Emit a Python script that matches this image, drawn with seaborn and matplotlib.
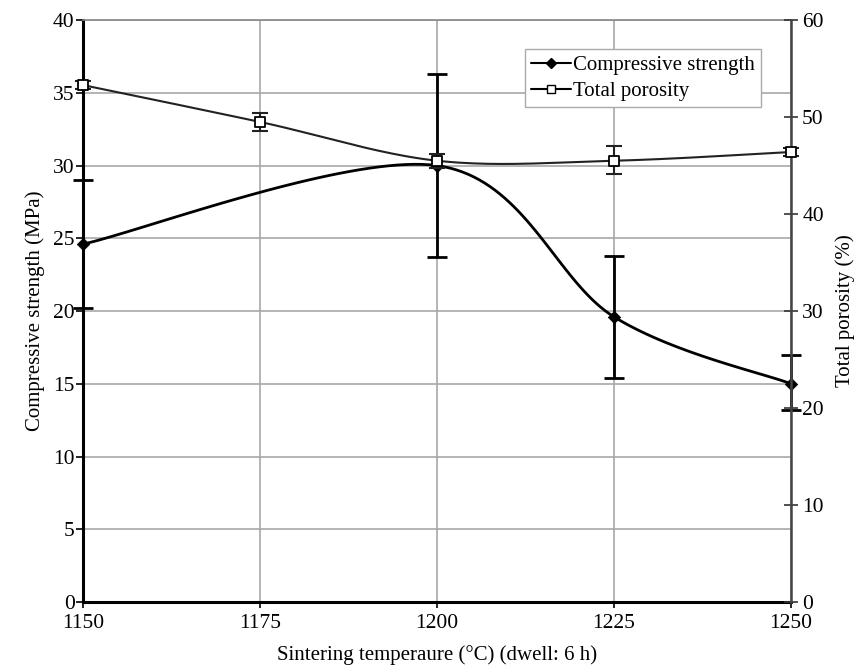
import numpy as np
import pandas as pd
import matplotlib
matplotlib.use("Agg")
import matplotlib.pyplot as plt
from matplotlib.lines import Line2D
import seaborn as sns

# ---- data ----
cs_temp = [1150, 1200, 1225, 1250]
cs_val = [24.6, 30.0, 19.6, 15.0]
cs_lo = [20.2, 23.7, 15.4, 13.2]
cs_hi = [29.0, 36.3, 23.8, 17.0]

por_temp = [1150, 1175, 1200, 1225, 1250]
por_val = [53.3, 49.5, 45.5, 45.5, 46.4]
por_lo = [52.9, 48.6, 44.8, 44.1, 46.0]
por_hi = [53.7, 50.4, 46.2, 47.0, 46.8]

x_ticks = [1150, 1175, 1200, 1225, 1250]
cs_ticks = [0, 5, 10, 15, 20, 25, 30, 35, 40]
por_ticks = [0, 10, 20, 30, 40, 50, 60]

sns.set_theme(style="white")
plt.rcParams["font.family"] = ["Liberation Serif", "DejaVu Serif"]
plt.rcParams["text.color"] = "black"
plt.rcParams["axes.labelcolor"] = "black"
plt.rcParams["xtick.color"] = "black"
plt.rcParams["ytick.color"] = "black"


def smooth(xs, ys, xr, yr, n=40):
    """Catmull-Rom style Bezier smoothing in normalized space."""
    P = np.column_stack([(np.asarray(xs) - xr[0]) / (xr[1] - xr[0]),
                         (np.asarray(ys) - yr[0]) / (yr[1] - yr[0])])
    out = []
    m = len(P)
    for i in range(m - 1):
        p0 = P[i - 1] if i > 0 else P[i]
        p1 = P[i]
        p2 = P[i + 1]
        p3 = P[i + 2] if i + 2 < m else P[i + 1]
        c1 = p1 + (p2 - p0) / 6.0
        c2 = p2 - (p3 - p1) / 6.0
        t = np.linspace(0, 1, n)[:, None]
        seg = ((1 - t) ** 3) * p1 + 3 * ((1 - t) ** 2) * t * c1 + 3 * (1 - t) * t ** 2 * c2 + t ** 3 * p2
        out.append(seg if i == 0 else seg[1:])
    S = np.vstack(out)
    return S[:, 0] * (xr[1] - xr[0]) + xr[0], S[:, 1] * (yr[1] - yr[0]) + yr[0]


fig = plt.figure(figsize=(8.58, 6.70), dpi=100)
ax = fig.add_axes([0.0967, 0.1015, 0.8253, 0.8685])
ax2 = ax.twinx()

xr = (1150, 1250)
# Compressive strength curve
sx, sy = smooth(cs_temp, cs_val, xr, (0, 40))
sns.lineplot(x=sx, y=sy, ax=ax, color="black", lw=2.0, sort=False, estimator=None, zorder=4)
ax.errorbar(cs_temp, cs_val,
            yerr=[np.array(cs_val) - np.array(cs_lo), np.array(cs_hi) - np.array(cs_val)],
            fmt="none", ecolor="black", elinewidth=2.0, capsize=7, capthick=2.0, zorder=5, clip_on=False)
sns.scatterplot(x=cs_temp, y=cs_val, ax=ax, marker="D", s=40, color="black",
                edgecolor="black", zorder=6, clip_on=False)

# Porosity curve
px, py = smooth(por_temp, por_val, xr, (0, 60))
sns.lineplot(x=px, y=py, ax=ax2, color="#222222", lw=1.5, sort=False, estimator=None, zorder=4)
ax2.errorbar(por_temp, por_val,
             yerr=[np.array(por_val) - np.array(por_lo), np.array(por_hi) - np.array(por_val)],
             fmt="none", ecolor="#222222", elinewidth=1.5, capsize=6, capthick=1.5, zorder=5, clip_on=False)
sns.scatterplot(x=por_temp, y=por_val, ax=ax2, marker="s", s=55, color="white",
                edgecolor="black", linewidth=1.3, zorder=6, clip_on=False)

ax.set_xlim(1150, 1250)
ax.set_ylim(0, 40)
ax2.set_ylim(0, 60)
ax.set_xticks(x_ticks)
ax.set_yticks(cs_ticks)
ax2.set_yticks(por_ticks)
ax.set_xticklabels([str(v) for v in x_ticks], fontsize=15.5)
ax.set_yticklabels([str(v) for v in cs_ticks], fontsize=15.5)
ax2.set_yticklabels([str(v) for v in por_ticks], fontsize=15.5)

ax.grid(True, color="#a8a8a8", lw=1.2)
ax2.grid(False)
ax.set_axisbelow(True)

ax.tick_params(axis="y", direction="out", length=5, width=1.2, color="black", pad=1, left=True)
ax.tick_params(axis="x", direction="out", length=4, width=1.2, color="black", pad=5, bottom=True)
ax2.tick_params(axis="y", direction="inout", length=10, width=1.2, color="#333333", pad=3, right=True)

for s in ["left", "bottom"]:
    ax.spines[s].set_color("black")
    ax.spines[s].set_linewidth(2.2)
ax.spines["top"].set_color("#888888")
ax.spines["top"].set_linewidth(1.2)
ax2.spines["right"].set_color("#444444")
ax2.spines["right"].set_linewidth(1.8)
for s in ["left", "bottom", "top"]:
    ax2.spines[s].set_visible(False)
ax.spines["right"].set_visible(False)

ax.set_xlabel("Sintering temperaure (°C) (dwell: 6 h)", fontsize=15, labelpad=8)
ax.set_ylabel("Compressive strength (MPa)", fontsize=15, labelpad=6)
ax2.set_ylabel("Total porosity (%)", fontsize=15, labelpad=8)

handles = [
    Line2D([], [], color="black", lw=1.5, marker="D", markersize=5, markerfacecolor="black"),
    Line2D([], [], color="black", lw=1.5, marker="s", markersize=6, markerfacecolor="white"),
]
leg = ax2.legend(handles, ["Compressive strength", "Total porosity"], loc="upper right",
                 bbox_to_anchor=(0.972, 0.968), fontsize=15, frameon=True, fancybox=False,
                 edgecolor="#aaaaaa", framealpha=1, handlelength=1.9, handletextpad=0.1,
                 borderpad=0.3, labelspacing=0.3)
leg.get_frame().set_linewidth(1.0)

fig.savefig("out.png", dpi=100)
